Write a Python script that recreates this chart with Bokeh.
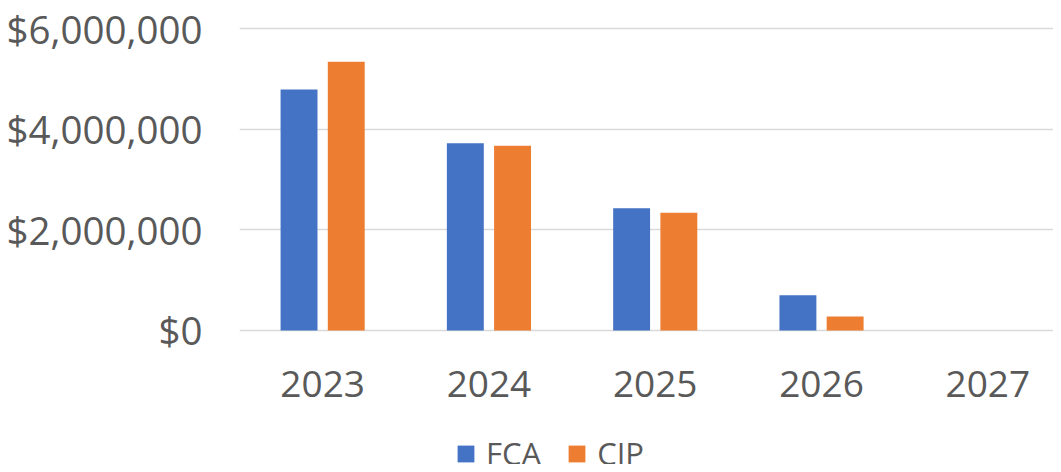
import numpy as np
from bokeh.plotting import figure
from bokeh.layouts import column
from bokeh.models import (ColumnDataSource, Range1d, FixedTicker, NumeralTickFormatter,
                          Legend, LegendItem)
from bokeh.transform import dodge
from bokeh.embed import file_html
from bokeh.resources import INLINE

years = ["2023", "2024", "2025", "2026", "2027"]
fca = [4790000, 3720000, 2430000, 700000, 0]
cip = [5340000, 3670000, 2340000, 280000, 0]
y_ticks = [0, 2000000, 4000000, 6000000]

FONT = "Open Sans"
TXT = "#595959"
BLUE = "#4472C4"
ORANGE = "#ED7D31"

pos = np.arange(len(years)) + 0.5
src = ColumnDataSource(dict(pos=pos, fca=fca, cip=cip, year=years))

p = figure(frame_width=814, frame_height=308,
           min_border_left=239, min_border_right=0, min_border_top=25, min_border_bottom=85,
           x_range=Range1d(0, 4.895), y_range=Range1d(-60000, 6060000),
           output_backend="svg", toolbar_location=None)

p.vbar(x=dodge("pos", -0.142, range=p.x_range), top="fca", width=0.222, source=src,
       fill_color=BLUE, line_color=None)
p.vbar(x=dodge("pos", 0.142, range=p.x_range), top="cip", width=0.222, source=src,
       fill_color=ORANGE, line_color=None)

p.outline_line_color = None
p.background_fill_color = "white"
p.border_fill_color = "white"

p.xgrid.grid_line_color = None
p.ygrid.grid_line_color = "#D9D9D9"
p.ygrid.grid_line_width = 1.5
p.yaxis.ticker = FixedTicker(ticks=y_ticks)
p.yaxis.formatter = NumeralTickFormatter(format="$0,0")
p.xaxis.ticker = FixedTicker(ticks=list(pos))
p.xaxis.major_label_overrides = {float(v): y for v, y in zip(pos, years)}

for ax in (p.xaxis[0], p.yaxis[0]):
    ax.axis_line_color = None
    ax.major_tick_line_color = None
    ax.minor_tick_line_color = None
    ax.major_label_text_font = FONT
    ax.major_label_text_color = TXT
p.xaxis.major_label_text_font_size = "37px"
p.yaxis.major_label_text_font_size = "38.5px"
p.yaxis.major_label_standoff = 31
p.xaxis.major_label_standoff = 31

# legend strip below the chart (same series, drawn far out of view so only the legend shows)
lf = figure(width=1053, height=46, min_border=0,
            x_range=Range1d(0, 4.895), y_range=Range1d(1e9, 2e9),
            x_axis_type=None, y_axis_type=None,
            output_backend="svg", toolbar_location=None)
lf.outline_line_color = None
lr1 = lf.vbar(x="pos", top="fca", width=0.222, source=src, fill_color=BLUE, line_color=None)
lr2 = lf.vbar(x="pos", top="cip", width=0.222, source=src, fill_color=ORANGE, line_color=None)

legend = Legend(items=[LegendItem(label="FCA", renderers=[lr1]),
                       LegendItem(label="CIP", renderers=[lr2])],
                orientation="horizontal", location=(216, -10),
                glyph_width=21, glyph_height=21, label_standoff=10, spacing=25,
                padding=0, margin=0, border_line_color=None, background_fill_alpha=0,
                label_text_font=FONT, label_text_font_size="31px", label_text_color=TXT)
lf.add_layout(legend, "center")

layout = column(p, lf, spacing=0)
open("out.html", "w").write(file_html(layout, INLINE))
